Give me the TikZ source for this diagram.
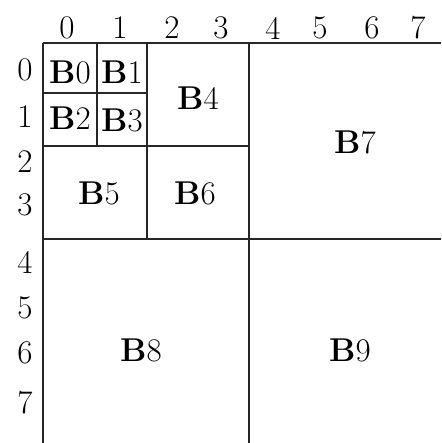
\documentclass[tikz,border=0pt]{standalone}
\begin{document}
\begin{tikzpicture}[x=1pt,y=-1pt,
  grid/.style={line width=1.4pt,draw=black!85},
  lab/.style={inner sep=0pt,font=\fontsize{33}{38}\selectfont},
  blk/.style={inner sep=0pt,font=\fontsize{33}{38}\selectfont}]
\useasboundingbox (0,0) rectangle (441,443);
% grid lines
\draw[grid] (43,43) -- (441,43);
\draw[grid] (43,43) -- (43,443);
\draw[grid] (97,43) -- (97,146);
\draw[grid] (147,43) -- (147,239);
\draw[grid] (249,43) -- (249,443);
\draw[grid] (43,93) -- (147,93);
\draw[grid] (43,146) -- (249,146);
\draw[grid] (43,239) -- (441,239);
% column labels
\foreach \i/\xx in {0/67,1/120,2/172,3/221,4/273,5/320,6/372,7/418}
  \node[lab] (c\i) at (\xx,28) {\i};
% row labels
\foreach \i/\yy in {0/70,1/117,2/162,3/205,4/262,5/308,6/353,7/403}
  \node[lab] (r\i) at (25,\yy) {\i};
% block labels
\node[blk] (b0) at (70,72) {\textbf{B}0};
\node[blk] (b1) at (122,72) {\textbf{B}1};
\node[blk] (b2) at (70,118) {\textbf{B}2};
\node[blk] (b3) at (122,120) {\textbf{B}3};
\node[blk] (b4) at (198,98) {\textbf{B}4};
\node[blk] (b5) at (99,193) {\textbf{B}5};
\node[blk] (b6) at (195,193) {\textbf{B}6};
\node[blk] (b7) at (355,142) {\textbf{B}7};
\node[blk] (b8) at (141,350) {\textbf{B}8};
\node[blk] (b9) at (350,350) {\textbf{B}9};
\end{tikzpicture}
\end{document}
